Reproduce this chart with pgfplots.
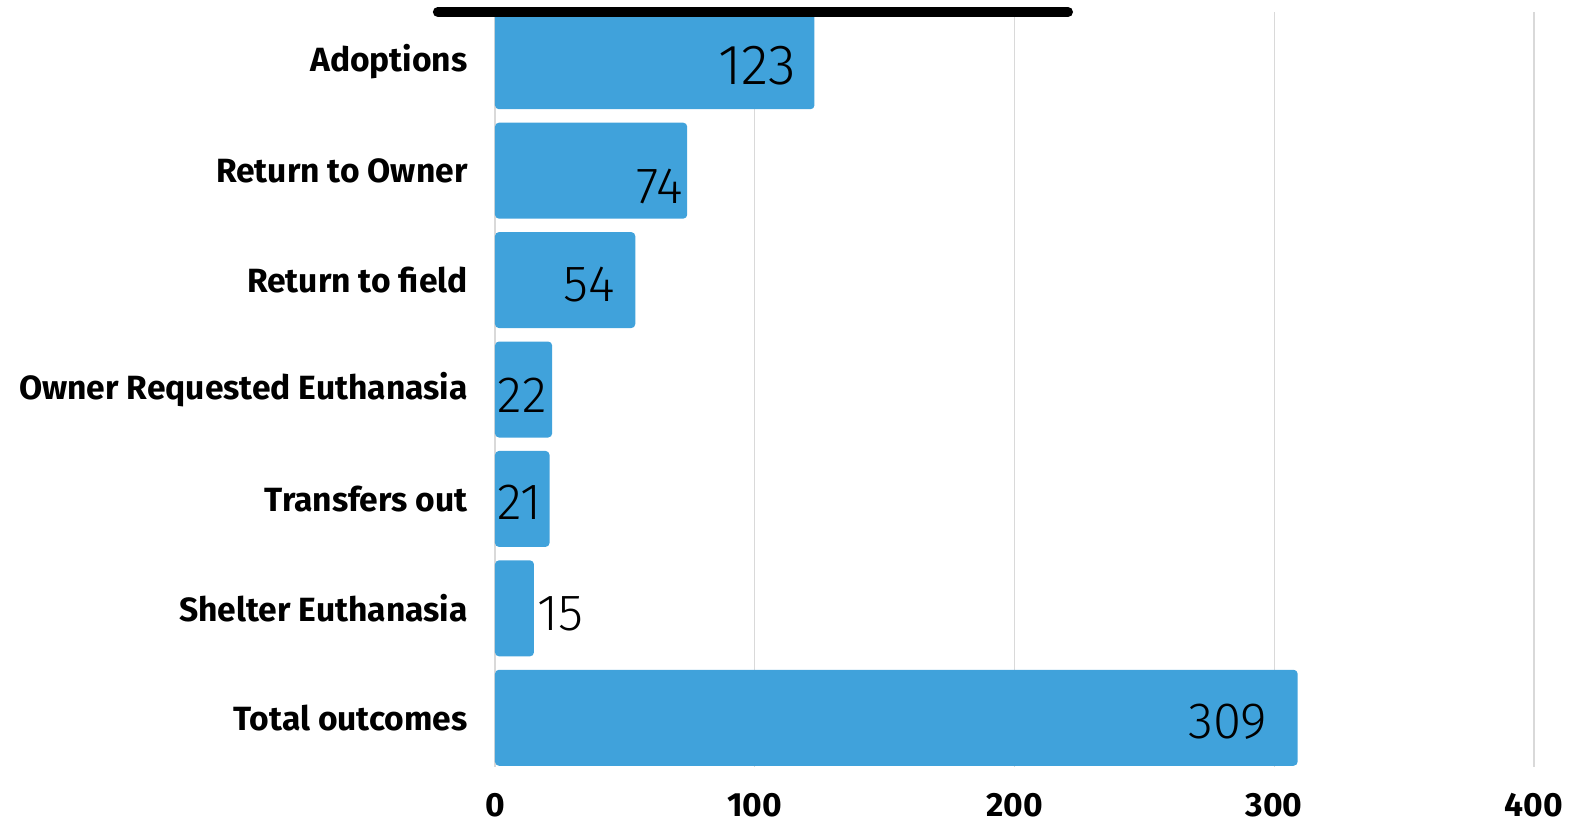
\documentclass[border=0pt]{standalone}
\usepackage{fontspec}
\setmainfont{Fira Sans}
\newfontfamily\lightfont{Fira Sans Light}
\usepackage{pgfplots}
\usepackage{pgfplotstable}
\pgfplotsset{compat=1.18}
\definecolor{barblue}{RGB}{64,162,219}
\definecolor{gridgray}{RGB}{217,217,217}

% value, row, label shift x/y (bp), label size (bp)
\pgfplotstableread{
x   y  dx   dy    fs
123 0  -9   -2.2  28.3
74  1  -2   -7.7  25.5
54  2  -10  -2.2  25.5
22  3  -2.5 -2.7  25.5
21  4  -4   -1.7  25.5
309 6  -15  -2    25.5
}\inside
\pgfplotstableread{
x   y  dx   dy    fs
15  5  1.5  -2.5  25.5
}\outside

\tikzset{vlabel/.style={inner sep=0pt, xshift=\dx bp, yshift=\dy bp,
    font=\lightfont\fontsize{\fs bp}{\fs bp}\selectfont, text=black}}
\pgfplotsset{mybar/.style={xbar, bar shift=0pt, bar width=48bp,
    fill=barblue, draw=none, rounded corners=2bp, nodes near coords}}

\begin{document}
\begin{tikzpicture}
\begin{axis}[
    at={(0,0)}, anchor=south west,
    scale only axis,
    width=519.5bp, height=377.5bp,
    xmin=0, xmax=400,
    ymin=-0.45, ymax=6.45,
    y dir=reverse,
    axis line style={draw=none},
    major tick length=0pt,
    xtick={0,100,200,300,400},
    xmajorgrids,
    grid style={gridgray, line width=0.6pt},
    ytick={0,1,2,3,4,5,6},
    yticklabels={Adoptions,Return to Owner,Return to field,Owner Requested Euthanasia,Transfers out,Shelter Euthanasia,Total outcomes},
    /pgf/number format/assume math mode=true,
    ticklabel style={font=\bfseries\fontsize{16.8bp}{16.8bp}\selectfont},
    yticklabel style={inner sep=0pt, xshift=-13.5bp},
    xticklabel style={inner sep=0pt, yshift=-19bp, anchor=center},
    clip=false,
    visualization depends on={\thisrow{dx} \as \dx},
    visualization depends on={\thisrow{dy} \as \dy},
    visualization depends on={\thisrow{fs} \as \fs},
]
\addplot[mybar, nodes near coords style={vlabel, anchor=east}]
    table[x=x, y=y] {\inside};
\addplot[mybar, nodes near coords style={vlabel, anchor=west}]
    table[x=x, y=y] {\outside};
\draw[line width=5bp, line cap=round, black] (axis cs:-22,-0.45) -- (axis cs:220.6,-0.45);
\end{axis}
\pgfresetboundingbox
\path[use as bounding box] (-247.5bp,-28.5bp) rectangle (540bp,383.5bp);
\end{tikzpicture}%
\end{document}
